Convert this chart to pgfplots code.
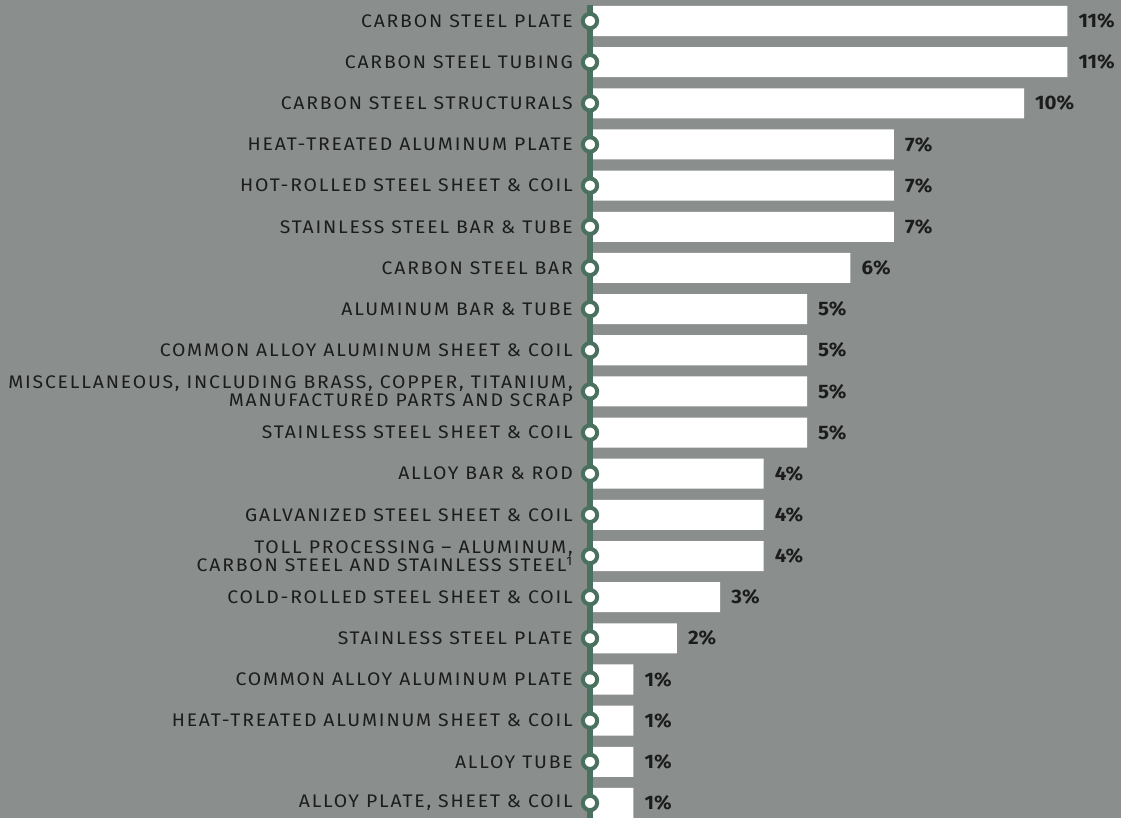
\documentclass[border=0pt]{standalone}
\usepackage{fontspec}
\setmainfont{Fira Sans}
\newfontfamily\labfont[LetterSpace=10,FakeStretch=1.065]{Fira Sans}
\newfontfamily\valfont[FakeStretch=1.05]{Fira Sans}
\usepackage{pgfplots}
\pgfplotsset{compat=1.18}
\definecolor{bg}{HTML}{8A8F8E}
\definecolor{grn}{HTML}{4A7060}
\definecolor{txt}{HTML}{1C1C1C}
\begin{document}
\begin{tikzpicture}[x=1pt,y=1pt]
\fill[bg] (0,0) rectangle (1121,818);
\useasboundingbox (0,0) rectangle (1121,818);
\begin{axis}[
  at={(590pt,0pt)}, anchor=south west,
  scale only axis, width=531pt, height=818pt,
  xmin=0, xmax=12.235,
  ymin=-0.51, ymax=19.365,
  y dir=reverse,
  clip=false,
  axis line style={draw=none},
  major tick length=0pt,
  xtick=\empty,
  ytick={0,...,19},
  /pgf/number format/assume math mode=true,
  yticklabels={
    {CARBON STEEL PLATE},
    {CARBON STEEL TUBING},
    {CARBON STEEL STRUCTURALS},
    {HEAT-TREATED ALUMINUM PLATE},
    {HOT-ROLLED STEEL SHEET \& COIL},
    {STAINLESS STEEL BAR \& TUBE},
    {CARBON STEEL BAR},
    {ALUMINUM BAR \& TUBE},
    {COMMON ALLOY ALUMINUM SHEET \& COIL},
    {MISCELLANEOUS, INCLUDING BRASS, COPPER, TITANIUM,\\MANUFACTURED PARTS AND SCRAP},
    {STAINLESS STEEL SHEET \& COIL},
    {ALLOY BAR \& ROD},
    {GALVANIZED STEEL SHEET \& COIL},
    {TOLL PROCESSING – ALUMINUM,\\CARBON STEEL AND STAINLESS STEEL\textsuperscript{1}},
    {COLD-ROLLED STEEL SHEET \& COIL},
    {STAINLESS STEEL PLATE},
    {COMMON ALLOY ALUMINUM PLATE},
    {HEAT-TREATED ALUMINUM SHEET \& COIL},
    {ALLOY TUBE},
    {ALLOY PLATE, SHEET \& COIL}
  },
  yticklabel style={anchor=east, inner sep=0pt, xshift=-17pt, align=right,
    font=\labfont\fontsize{18.2}{18.5}\selectfont, text=txt},
]
\addplot[xbar, fill=white, draw=none, bar width=0.73,
  nodes near coords={\pgfmathprintnumber{\pgfplotspointmeta}\%},
  nodes near coords style={anchor=west, inner sep=0pt, xshift=11pt,
    font=\valfont\bfseries\fontsize{19.5}{21}\selectfont, text=txt}]
  coordinates {
    (11,0) (11,1) (10,2) (7,3) (7,4) (7,5) (6,6) (5,7) (5,8) (5,9)
    (5,10) (4,11) (4,12) (4,13) (3,14) (2,15) (1,16) (1,17) (1,18) (1,19)
  };
\addplot[grn, line width=5.7pt] coordinates {(0,-0.39) (0,19.6)};
\addplot[only marks, mark=*, mark size=7.15pt,
  mark options={fill=white, draw=grn, line width=4pt}]
  coordinates {
    (0,0) (0,1) (0,2) (0,3) (0,4) (0,5) (0,6) (0,7) (0,8) (0,9)
    (0,10) (0,11) (0,12) (0,13) (0,14) (0,15) (0,16) (0,17) (0,18) (0,19)
  };
\end{axis}
\end{tikzpicture}
\end{document}
